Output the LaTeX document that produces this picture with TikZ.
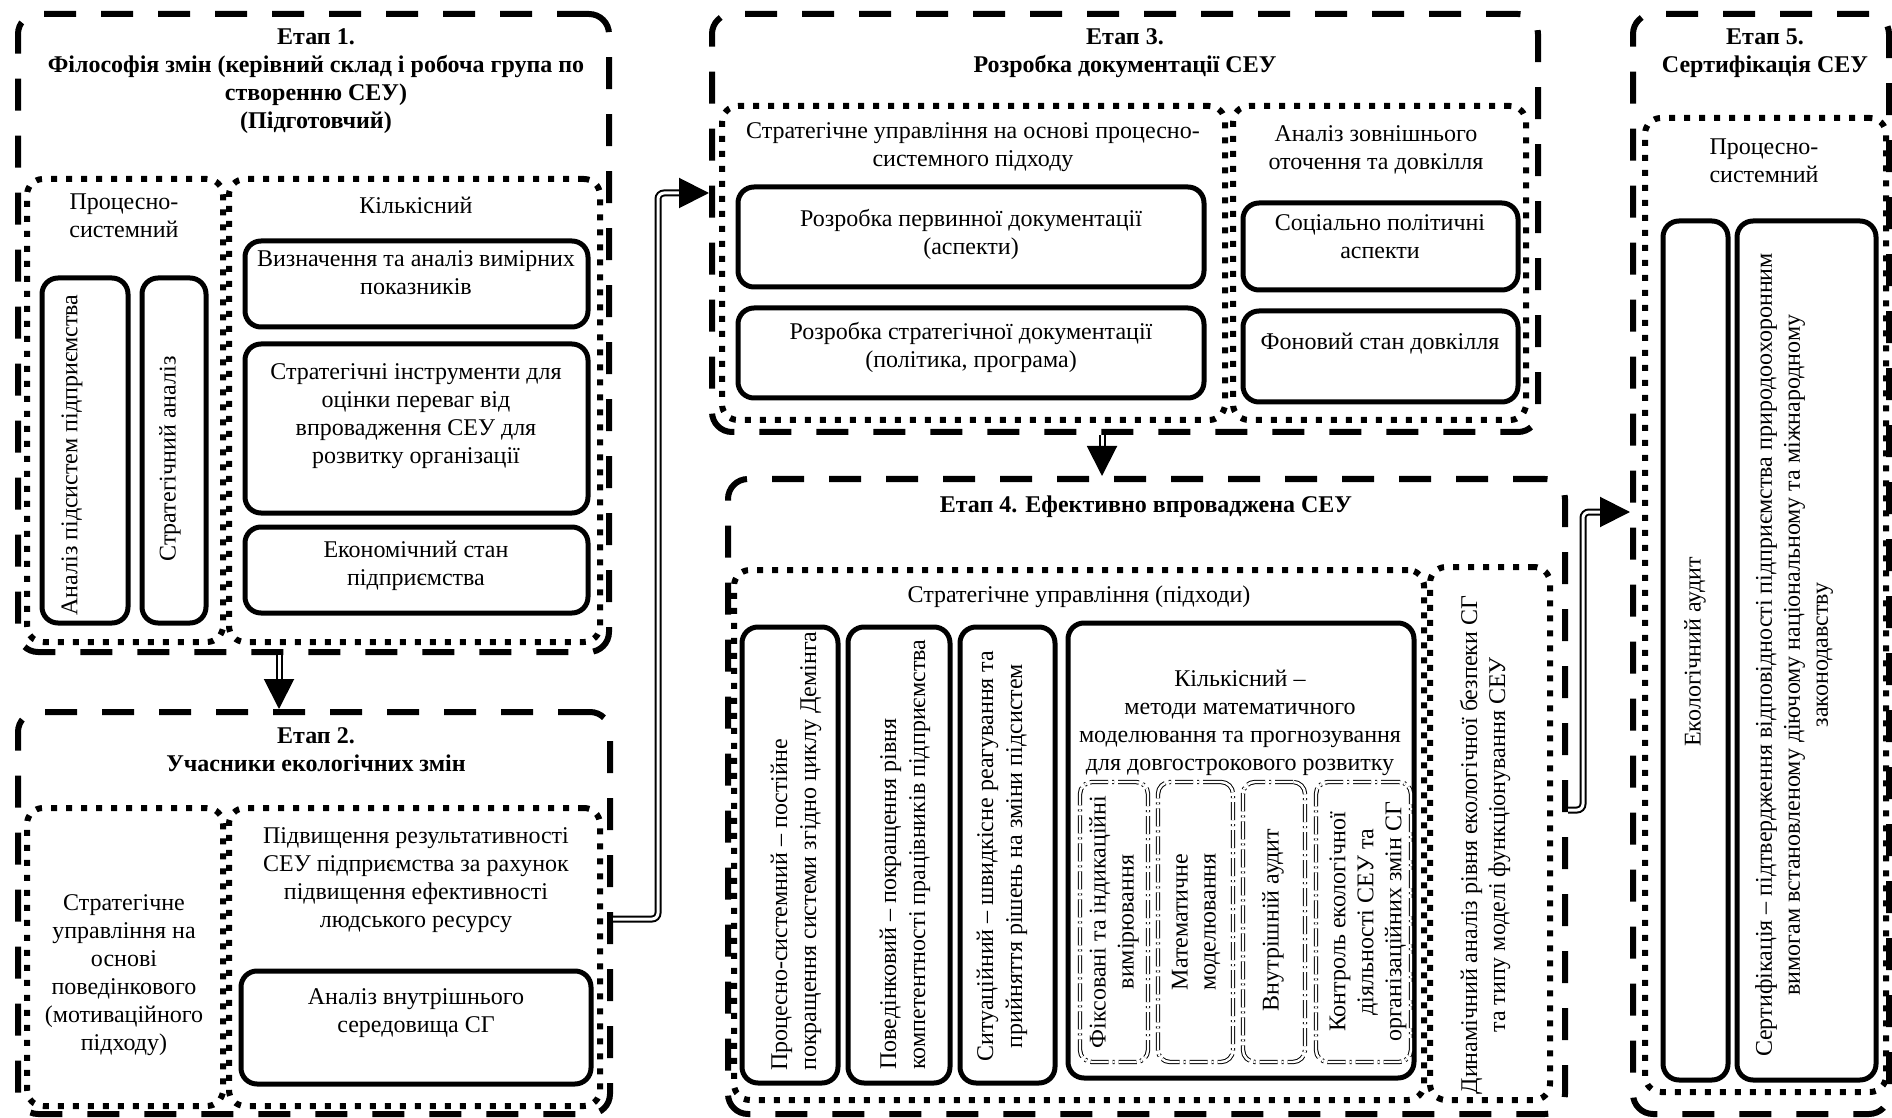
\documentclass[tikz,border=0pt]{standalone}
\usepackage{fontspec}
\setmainfont{Liberation Serif}
\usetikzlibrary{arrows.meta}
\begin{document}
\begin{tikzpicture}[x=0.5pt,y=-0.5pt,
 stage/.style={draw, line width=3pt, dash pattern=on 16pt off 12.5pt, rounded corners=10pt, inner sep=0pt},
 grp/.style={draw, line width=3pt, dash pattern=on 3pt off 4.5pt, rounded corners=8pt, inner sep=0pt},
 sbox/.style={draw, line width=2.5pt, rounded corners=8pt, inner sep=0pt},
 subbox/.style={draw, double, double distance=1.2pt, line width=0.5pt, dash pattern=on 9pt off 2pt on 1pt off 2pt, rounded corners=6pt, inner sep=0pt},
 txt/.style={font=\fontsize{12}{14}\selectfont, align=center, inner sep=0pt},
 ttl/.style={font=\bfseries\fontsize{12}{14}\selectfont, align=center, inner sep=0pt},
 vtxt/.style={txt, rotate=90},
 vltxt/.style={font=\fontsize{12}{14.5}\selectfont, align=left, inner sep=0pt, rotate=90, anchor=west},
 dbl/.style={draw, double, double distance=1.5pt, line width=1pt, rounded corners=3pt},
 tip/.style={-{Triangle[length=15pt,width=15pt]}, line width=1pt},
]
\useasboundingbox (0,0) rectangle (1892,1118);

% ---------- Stage boxes ----------
\node[stage, minimum width=295.5pt, minimum height=319pt] (S1) at (313.5,333) {};
\node[stage, minimum width=296pt, minimum height=201pt] (S2) at (314,913) {};
\node[stage, minimum width=413pt, minimum height=209pt] (S3) at (1125,223) {};
\node[stage, minimum width=418.5pt, minimum height=317.5pt] (S4) at (1146.5,796.5) {};
\node[stage, minimum width=128pt, minimum height=550pt] (S5) at (1761,564) {};

% ---------- Group (dotted) boxes ----------
\node[grp, minimum width=98pt, minimum height=231.5pt] (G1a) at (125,410.5) {};
\node[grp, minimum width=185.5pt, minimum height=231.5pt] (G1b) at (414.5,410.5) {};
\node[grp, minimum width=98pt, minimum height=149pt] (G2a) at (125,957) {};
\node[grp, minimum width=185.5pt, minimum height=149pt] (G2b) at (414.5,957) {};
\node[grp, minimum width=251.5pt, minimum height=157pt] (G3a) at (973.5,263) {};
\node[grp, minimum width=146.5pt, minimum height=157pt] (G3b) at (1379.5,263) {};
\node[grp, minimum width=345pt, minimum height=265pt] (G4a) at (1079,835) {};
\node[grp, minimum width=60pt, minimum height=266.5pt] (G4b) at (1490,833.5) {};
\node[grp, minimum width=120.5pt, minimum height=487pt] (G5) at (1765.5,605) {};

% ---------- Solid boxes ----------
\node[sbox, minimum width=43pt, minimum height=172.5pt] (B1a) at (85,450.5) {};
\node[sbox, minimum width=32pt, minimum height=172.5pt] (B1b) at (174,450.5) {};
\node[sbox, minimum width=171.5pt, minimum height=43pt] (B1c) at (416.5,284) {};
\node[sbox, minimum width=171.5pt, minimum height=84.5pt] (B1d) at (416.5,428.5) {};
\node[sbox, minimum width=171.5pt, minimum height=43pt] (B1e) at (416.5,570) {};
\node[sbox, minimum width=175pt, minimum height=56.5pt] (B2) at (416,1027.5) {};
\node[sbox, minimum width=233pt, minimum height=50pt] (B3a) at (971,237) {};
\node[sbox, minimum width=233pt, minimum height=45pt] (B3b) at (971,353) {};
\node[sbox, minimum width=137.5pt, minimum height=43.5pt] (B3c) at (1380.5,246.5) {};
\node[sbox, minimum width=137.5pt, minimum height=45.5pt] (B3d) at (1380.5,356.5) {};
\node[sbox, minimum width=48pt, minimum height=228pt] (B4a) at (790,855) {};
\node[sbox, minimum width=51pt, minimum height=228pt] (B4b) at (899,855) {};
\node[sbox, minimum width=47.5pt, minimum height=228pt] (B4c) at (1007.5,855) {};
\node[sbox, minimum width=173pt, minimum height=227.5pt] (B4K) at (1241,850.5) {};
\node[subbox, minimum width=34pt, minimum height=140pt] (Sa) at (1114,922) {};
\node[subbox, minimum width=37.5pt, minimum height=140pt] (Sb) at (1195.5,922) {};
\node[subbox, minimum width=31pt, minimum height=140pt] (Sc) at (1274,922) {};
\node[subbox, minimum width=47.5pt, minimum height=140pt] (Sd) at (1363.5,922) {};
\node[sbox, minimum width=32.5pt, minimum height=429.5pt] (B5a) at (1695.5,650.5) {};
\node[sbox, minimum width=69.5pt, minimum height=429.5pt] (B5b) at (1806.5,650.5) {};

% ---------- Texts: stage 1 ----------
\node[ttl] (T1) at (316,81) {Етап 1.\\Філософія змін (керівний склад і робоча група по\\створенню СЕУ)\\(Підготовчий)};
\node[txt] (T1a) at (124,216) {Процесно-\\системний};
\node[txt] (T1b) at (416,205) {Кількісний};
\node[vtxt] (T1c) at (72,455) {Аналіз підсистем підприємства};
\node[vtxt] (T1d) at (170,459) {Стратегічний аналіз};
\node[txt] (T1e) at (416,273) {Визначення та аналіз вимірних\\показників};
\node[txt] (T1f) at (416,416) {Стратегічні інструменти для\\оцінки переваг від\\впровадження СЕУ для\\розвитку організації};
\node[txt] (T1g) at (416,566) {Економічний стан\\підприємства};

% ---------- stage 2 ----------
\node[ttl] (T2) at (316,750) {Етап 2.\\Учасники екологічних змін};
\node[txt] (T2a) at (124,975) {Стратегічне\\управління на\\основі\\поведінкового\\(мотиваційного\\підходу)};
\node[txt] (T2b) at (416,880) {Підвищення результативності\\СЕУ підприємства за рахунок\\підвищення ефективності\\людського ресурсу};
\node[txt] (T2c) at (416,1013) {Аналіз внутрішнього\\середовища СГ};

% ---------- stage 3 ----------
\node[ttl] (T3) at (1125,53) {Етап 3.\\Розробка документації СЕУ};
\node[txt] (T3a) at (973,147) {Стратегічне управління на основі процесно-\\системного підходу};
\node[txt] (T3b) at (971,234) {Розробка первинної документації\\(аспекти)};
\node[txt] (T3c) at (971,347) {Розробка стратегічної документації\\(політика, програма)};
\node[txt] (T3d) at (1376,150) {Аналіз зовнішнього\\оточення та довкілля};
\node[txt] (T3e) at (1380,237) {Соціально політичні\\аспекти};
\node[txt] (T3f) at (1380,344) {Фоновий стан довкілля};

% ---------- stage 4 ----------
\node[ttl] (T4) at (1146,507) {Етап 4. Ефективно впроваджена СЕУ};
\node[txt] (T4a) at (1079,597) {Стратегічне управління (підходи)};
\node[vltxt] (T4b) at (796,1071) {Процесно-системний – постійне\\покращення системи згідно циклу Демінга};
\node[vltxt] (T4c) at (905,1070) {Поведінковий – покращення рівня\\компетентності працівників підприємства};
\node[vtxt, font=\fontsize{12}{14.5}\selectfont] (T4d) at (1002,856) {Ситуаційний – швидкісне реагування та\\прийняття рішень на зміни підсистем};
\node[txt] (T4e) at (1240,723) {Кількісний –\\методи математичного\\моделювання та прогнозування\\для довгострокового розвитку};
\node[vtxt] (T4f) at (1114,922) {Фіксовані та індикаційні\\вимірювання};
\node[vtxt] (T4g) at (1196,922) {Математичне\\моделювання};
\node[vtxt] (T4h) at (1273,920) {Внутрішній аудит};
\node[vtxt] (T4i) at (1368,922) {Контроль екологічної\\діяльності СЕУ та\\організаційних змін СГ};
\node[vtxt] (T4j) at (1485,845) {Динамічний аналіз рівня екологічної безпеки СГ\\та типу моделі функціонування СЕУ};

% ---------- stage 5 ----------
\node[ttl] (T5) at (1765,53) {Етап 5.\\Сертифікація СЕУ};
\node[txt] (T5a) at (1764,161) {Процесно-\\системний};
\node[vtxt] (T5b) at (1695,652) {Екологічний аудит};
\node[vtxt] (T5c) at (1794,655) {Сертифікація – підтвердження відповідності підприємства природоохоронним\\вимогам встановленому діючому національному та міжнародному\\законодавству};

% ---------- Connectors ----------
\coordinate (k12) at (279,681);
\draw[dbl] (S1.south -| k12) -- (k12);
\draw[tip] (k12) -- (S2.north -| k12);

\coordinate (k34) at (1102,449);
\draw[dbl] (S3.south -| k34) -- (k34);
\draw[tip] (k34) -- (S4.north -| k34);

\coordinate (p1) at (658,919);
\coordinate (p2) at (658,193);
\coordinate (p3) at (682,193);
\draw[dbl] (S2.east |- p1) -- (p1) -- (p2) -- (p3);
\draw[tip] (p3) -- (S3.west |- p3);

\coordinate (q1) at (1583,810);
\coordinate (q2) at (1583,512);
\coordinate (q3) at (1603,512);
\draw[dbl] (S4.east |- q1) -- (q1) -- (q2) -- (q3);
\draw[tip] (q3) -- (S5.west |- q3);
\end{tikzpicture}
\end{document}
